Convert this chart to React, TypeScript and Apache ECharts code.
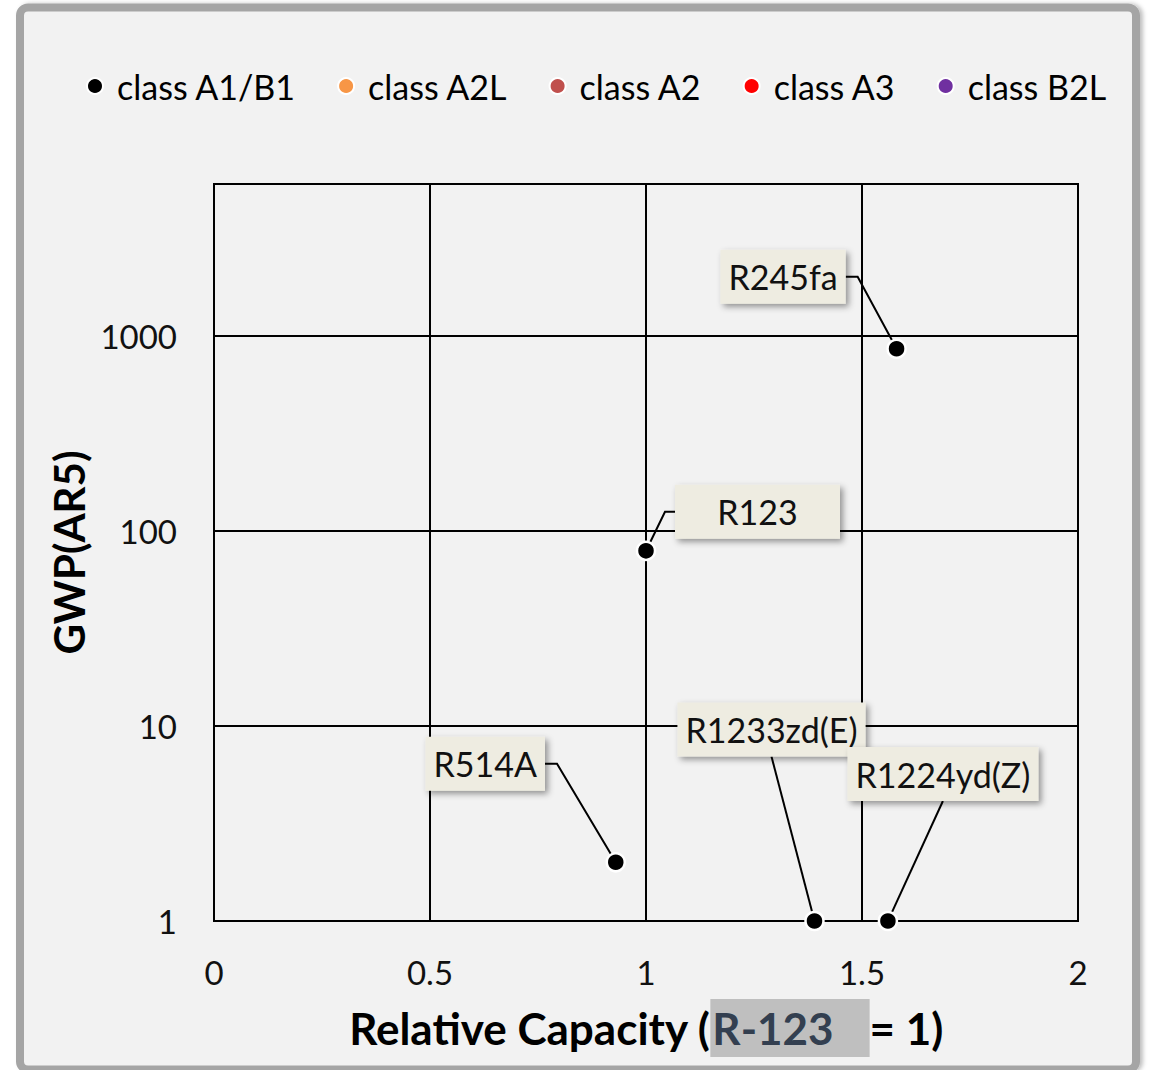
import React, { useEffect, useRef } from 'react';
import * as echarts from 'echarts';

const refrigerants = ['R245fa', 'R123', 'R514A', 'R1233zd(E)', 'R1224yd(Z)'];
const relativeCapacity = [1.58, 1.0, 0.93, 1.39, 1.56];
const gwpAR5 = [858, 79, 2, 1, 1];
const legendClasses = ['class A1/B1', 'class A2L', 'class A2', 'class A3', 'class B2L'];
const classColors = ['#000000', '#f79646', '#c0504d', '#ff0000', '#7030a0'];
const yTickValues = [1, 10, 100, 1000];

// label placement (pixel offsets from each point)
const labelOffsets = [[-113.5, -72], [111.5, -39], [-130.5, -98.5], [-43, -191.5], [55, -147]];
const labelLeader = [12, 10, 12, 0, 0];
const labelFixedWidth: (number | undefined)[] = [undefined, 149, undefined, undefined, undefined];

const FONT = 'Lato, "Open Sans", sans-serif';

export default function App() {
  const ref = useRef<HTMLDivElement>(null);
  useEffect(() => {
    if (!ref.current) return;
    const chart = echarts.init(ref.current, undefined, { renderer: 'svg' });
    const seriesList: any[] = legendClasses.map((cls, ci) => ({
      name: cls,
      type: 'scatter',
      symbol: 'circle',
      symbolSize: 18,
      clip: false,
      itemStyle: { color: classColors[ci], borderColor: '#ffffff', borderWidth: 2.5, opacity: 1 },
      data: ci === 0
        ? refrigerants.map((n, i) => ({
            name: n,
            value: [relativeCapacity[i], gwpAR5[i]],
            label: labelFixedWidth[i] ? { width: labelFixedWidth[i] } : {},
            labelLine: { length2: labelLeader[i] },
          }))
        : [],
      label: ci === 0 ? {
        show: true,
        position: 'inside',
        formatter: '{b}',
        fontFamily: FONT,
        fontSize: 34,
        color: '#111',
        align: 'center',
        backgroundColor: '#eeece1',
        padding: [7, 8, 6, 8],
        lineHeight: 41,
        shadowColor: 'rgba(0,0,0,0.4)',
        shadowBlur: 6,
        shadowOffsetX: 3,
        shadowOffsetY: 3,
      } : undefined,
      labelLine: ci === 0 ? { show: true, minTurnAngle: 30, lineStyle: { color: '#000', width: 2 } } : undefined,
      labelLayout: ci === 0 ? (params: any) => ({
        dx: labelOffsets[params.dataIndex][0],
        dy: labelOffsets[params.dataIndex][1],
      }) : undefined,
      z: 5,
    }));

    chart.setOption({
      animation: false,
      backgroundColor: 'transparent',
      graphic: [{
        type: 'rect',
        z: -10,
        shape: { x: 20, y: 7.5, width: 1116, height: 1062, r: 8 },
        style: { fill: '#f2f2f2', stroke: '#a5a5a5', lineWidth: 8, shadowColor: 'rgba(0,0,0,0.25)', shadowBlur: 4, shadowOffsetX: 3, shadowOffsetY: 0 },
      }],
      legend: {
        data: legendClasses,
        left: 81,
        top: 64,
        icon: 'circle',
        itemWidth: 16,
        itemHeight: 16,
        itemGap: 41,
        textStyle: { fontFamily: FONT, fontSize: 34, color: '#000', padding: [0, 0, 0, 9] },
      },
      grid: {
        left: 214, right: 77, top: 184, bottom: 149,
        show: true, borderColor: '#000', borderWidth: 2,
      },
      xAxis: {
        type: 'value',
        min: 0, max: 2, interval: 0.5,
        name: '{a|Relative Capacity (}{b|R-123}{a|= 1)}',
        nameLocation: 'middle',
        nameGap: 78,
        nameTextStyle: {
          rich: {
            a: { fontFamily: FONT, fontSize: 44, fontWeight: 'bold', color: '#000' },
            b: { fontFamily: FONT, fontSize: 44, fontWeight: 'bold', color: '#333f50', backgroundColor: '#bfbfbf', padding: [7, 36, 7, 2] },
          },
        },
        axisLine: { show: true, lineStyle: { color: '#000', width: 2 } },
        axisTick: { show: false },
        axisLabel: { fontFamily: FONT, fontSize: 33, color: '#111', margin: 34 },
        splitLine: { show: true, lineStyle: { color: '#000', width: 2 } },
      },
      yAxis: {
        type: 'log',
        logBase: 10,
        min: 1, max: 6000,
        name: 'GWP(AR5)',
        nameLocation: 'middle',
        nameGap: 124,
        nameTextStyle: { fontFamily: FONT, fontSize: 42, fontWeight: 'bold', color: '#000' },
        axisLine: { show: true, lineStyle: { color: '#000', width: 2 } },
        axisTick: { show: false },
        axisLabel: {
          fontFamily: FONT, fontSize: 33, color: '#111', margin: 37,
          formatter: (v: number) => (yTickValues.some((t) => Math.abs(t - v) < 1e-6 * t) ? String(Math.round(v)) : ''),
        },
        splitLine: { show: true, lineStyle: { color: '#000', width: 2 } },
      },
      series: seriesList,
    });
    return () => chart.dispose();
  }, []);
  return <div ref={ref} style={{ position: 'absolute', left: 0, top: 0, width: 1155, height: 1070 }} />;
}
